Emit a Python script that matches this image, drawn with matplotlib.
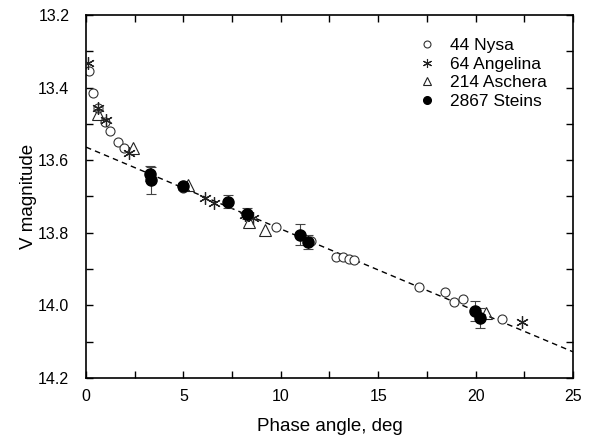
import matplotlib
matplotlib.use('Agg')
import matplotlib.pyplot as plt
import numpy as np
from matplotlib.ticker import MultipleLocator, FormatStrFormatter
from matplotlib.lines import Line2D

plt.rcParams['font.family'] = ['Liberation Sans', 'DejaVu Sans']

# 44 Nysa
nysa_x = [0.15, 0.37, 0.6, 1.0, 1.25, 1.62, 1.95, 4.97, 9.77, 11.56,
          12.84, 13.18, 13.49, 13.78, 17.08, 18.44, 18.9, 19.33, 21.35]
nysa_m = [13.353, 13.416, 13.455, 13.496, 13.521, 13.549, 13.567, 13.677, 13.783, 13.822,
          13.866, 13.867, 13.871, 13.874, 13.950, 13.962, 13.990, 13.982, 14.038]

# 64 Angelina
ang_x = [0.1, 0.6, 1.05, 2.22, 6.1, 6.56, 8.15, 8.57, 22.4]
ang_m = [13.331, 13.456, 13.489, 13.579, 13.703, 13.717, 13.751, 13.760, 14.045]

# 214 Aschera
asc_x = [0.6, 2.42, 5.24, 8.37, 9.2, 20.56]
asc_m = [13.473, 13.567, 13.668, 13.769, 13.792, 14.022]

# 2867 Steins
ste_x = [3.3, 3.35, 5.0, 7.3, 8.25, 11.0, 11.4, 19.95, 20.25]
ste_m = [13.637, 13.655, 13.672, 13.715, 13.748, 13.805, 13.826, 14.015, 14.035]
ste_err = [0.02, 0.037, 0.01, 0.018, 0.015, 0.03, 0.02, 0.028, 0.028]

# linear fit
fit_a = 13.564
fit_b = 0.02256

fig, ax = plt.subplots(figsize=(5.91, 4.41), dpi=100)
fig.subplots_adjust(left=0.1455, right=0.9695, top=0.966, bottom=0.143)

xx = np.array([0, 25])
ax.plot(xx, fit_a + fit_b * xx, color='black', ls=(0, (4, 3)), lw=1.0, zorder=1)

star = (6, 2, 0)
ax.plot(nysa_x, nysa_m, 'o', mfc='white', mec='#333333', ms=6.5, mew=0.8, zorder=2)
ax.plot(ang_x, ang_m, linestyle='none', marker=star, color='#222222', ms=9, mew=0.9, zorder=3)
ax.plot(asc_x, asc_m, '^', mfc='none', mec='#222222', ms=8, mew=0.8, zorder=3)
ax.errorbar(ste_x, ste_m, yerr=ste_err, fmt='o', color='black', ms=8,
            ecolor='#444444', elinewidth=0.8, capsize=3.5, capthick=0.8, zorder=4)

ax.set_xlim(0, 25)
ax.set_ylim(14.2, 13.2)
ax.xaxis.set_major_locator(MultipleLocator(5))
ax.xaxis.set_minor_locator(MultipleLocator(2.5))
ax.yaxis.set_major_locator(MultipleLocator(0.2))
ax.yaxis.set_minor_locator(MultipleLocator(0.1))
ax.yaxis.set_major_formatter(FormatStrFormatter('%.1f'))
ax.tick_params(which='both', direction='in', top=True, right=True, labelsize=11.5,
               width=1.0, length=5)
ax.tick_params(axis='y', which='major', pad=12)
ax.tick_params(axis='x', which='major', pad=8)
for sp in ax.spines.values():
    sp.set_linewidth(1.2)

ax.set_xlabel('Phase angle, deg', fontsize=13.5, labelpad=10)
ax.set_ylabel('V magnitude', fontsize=13.5, labelpad=1)

handles = [
    Line2D([], [], ls='none', marker='o', mfc='white', mec='#333333', ms=5, mew=0.8),
    Line2D([], [], ls='none', marker=star, color='#222222', ms=6.5, mew=0.8),
    Line2D([], [], ls='none', marker='^', mfc='none', mec='#222222', ms=5.5, mew=0.8),
    Line2D([], [], ls='none', marker='o', color='black', ms=5.5),
]
labels = ['44 Nysa', '64 Angelina', '214 Aschera', '2867 Steins']
ax.legend(handles, labels, frameon=False, loc='upper right', fontsize=12.5,
          handlelength=1.0, handletextpad=0.8, labelspacing=0.2,
          bbox_to_anchor=(0.975, 0.975), borderpad=0.3)

fig.savefig('out.png', dpi=100)
